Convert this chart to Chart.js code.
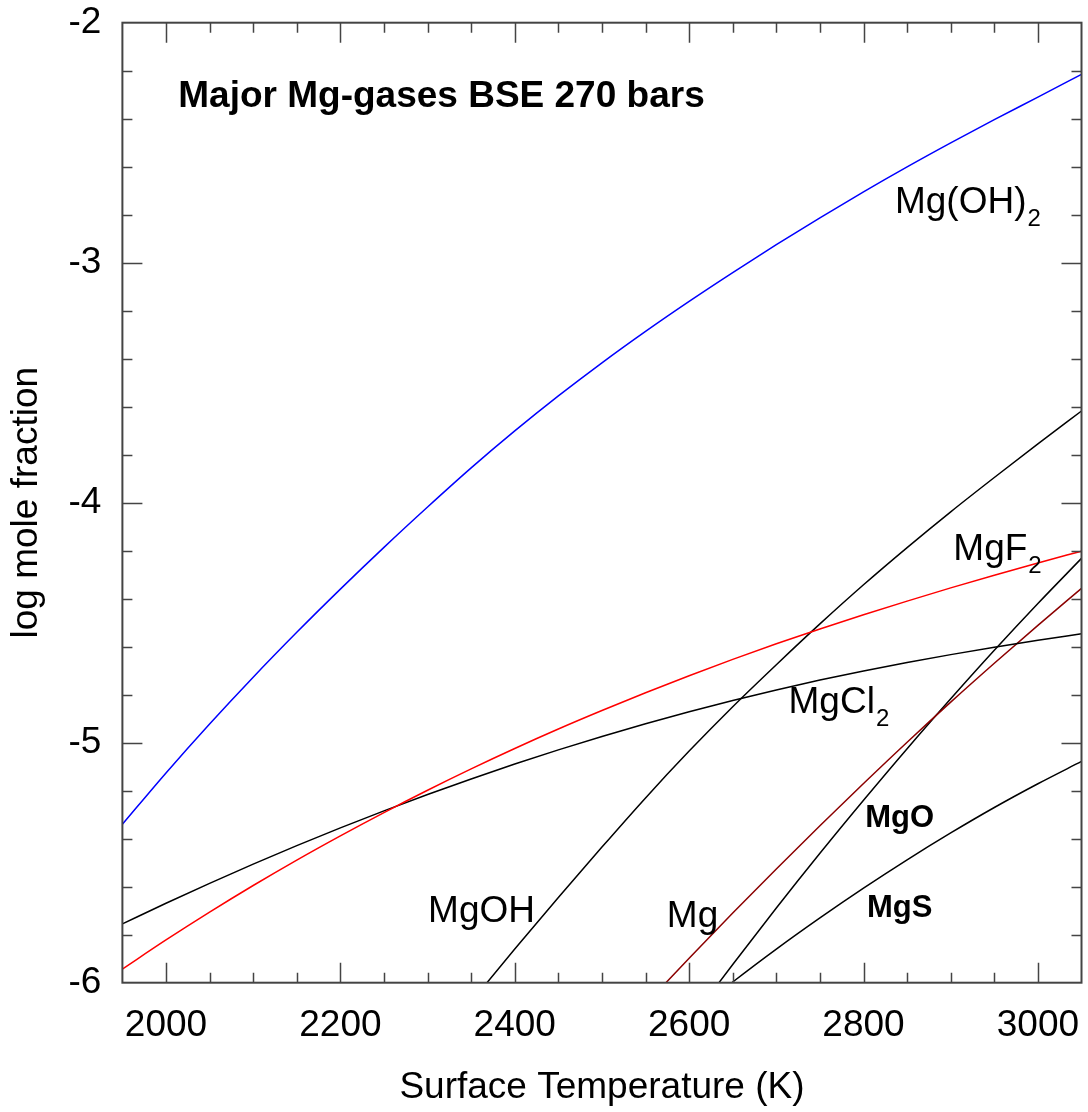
<!DOCTYPE html>
<html>
<head>
<meta charset="utf-8">
<script src="https://cdn.jsdelivr.net/npm/chart.js@4.4.1/dist/chart.umd.min.js"></script>
<style>
  html, body { margin: 0; padding: 0; background: #fff; }
  #wrap { width: 1088px; height: 1112px; }
</style>
</head>
<body>
<div id="wrap"><canvas id="mg_chart" width="1088" height="1112"></canvas></div>
<script>
// temperatures (K) and log mole fractions
const temps = [1950, 2000, 2050, 2100, 2150, 2200, 2250, 2300, 2350, 2400, 2450, 2500,
               2550, 2600, 2650, 2700, 2750, 2800, 2850, 2900, 2950, 3000, 3050];
const mgOH2 = [-5.34, -5.126, -4.922, -4.727, -4.540, -4.360, -4.186, -4.018, -3.855, -3.701, -3.555, -3.417,
               -3.286, -3.161, -3.041, -2.925, -2.813, -2.705, -2.601, -2.501, -2.404, -2.310, -2.215];
const mgF2 = [-5.943, -5.822, -5.706, -5.595, -5.489, -5.388, -5.291, -5.198, -5.109, -5.024, -4.943, -4.866,
              -4.792, -4.721, -4.653, -4.588, -4.526, -4.467, -4.410, -4.355, -4.302, -4.251, -4.202];
const mgCl2 = [-5.755, -5.669, -5.586, -5.506, -5.429, -5.355, -5.284, -5.216, -5.151, -5.089, -5.030, -4.974,
               -4.921, -4.871, -4.824, -4.780, -4.739, -4.701, -4.666, -4.633, -4.602, -4.573, -4.546];

const tempsMgOH = [2350, 2400, 2450, 2500, 2550, 2600, 2650, 2700, 2750, 2800, 2850, 2900, 2950, 3000, 3050];
const mgOH = [-6.08, -5.86, -5.645, -5.435, -5.23, -5.035, -4.85, -4.675, -4.505, -4.342, -4.187, -4.038, -3.895, -3.755, -3.618];

const tempsMg = [2550, 2600, 2650, 2700, 2750, 2800, 2850, 2900, 2950, 3000, 3050];
const mg = [-6.09, -5.898, -5.71, -5.526, -5.346, -5.17, -4.998, -4.831, -4.669, -4.511, -4.357];

const tempsMgO = [2600, 2650, 2700, 2750, 2800, 2850, 2900, 2950, 3000, 3050];
const mgO = [-6.165, -5.924, -5.689, -5.461, -5.24, -5.025, -4.817, -4.615, -4.42, -4.232];
const mgS = [-6.14, -5.997, -5.86, -5.73, -5.606, -5.488, -5.376, -5.27, -5.171, -5.078];

const xTicks = [2000, 2200, 2400, 2600, 2800, 3000];
const yTicks = [-2, -3, -4, -5, -6];

const FONT = "'Liberation Sans', Arial, sans-serif";
const AXIS = '#444444';

function pts(xs, ys) {
  return xs.map((x, i) => ({ x: x, y: ys[i] }));
}

function series(label, xs, ys, color) {
  return {
    label: label,
    data: pts(xs, ys),
    borderColor: color,
    borderWidth: 1.5,
    pointRadius: 0,
    fill: false,
    cubicInterpolationMode: 'monotone'
  };
}

// text labels placed in data units (T, log x)
const labels = [
  { t: 2836, v: -2.794, main: 'Mg(OH)', sub: '2' },
  { t: 2903, v: -4.239, main: 'MgF', sub: '2' },
  { t: 2714, v: -4.878, main: 'MgCl', sub: '2' },
  { t: 2300.6, v: -5.749, main: 'MgOH' },
  { t: 2574.4, v: -5.767, main: 'Mg' },
  { t: 2802, v: -5.351, main: 'MgO', bold: true },
  { t: 2804, v: -5.725, main: 'MgS', bold: true }
];

const framePlugin = {
  id: 'frame',
  afterDatasetsDraw(chart) {
    const { ctx, chartArea: a, scales } = chart;
    const xs = scales.x, ys = scales.y;
    ctx.save();
    ctx.strokeStyle = AXIS;
    ctx.lineWidth = 2;
    ctx.strokeRect(a.left, a.top, a.right - a.left, a.bottom - a.top);

    // inward ticks on all four sides
    ctx.lineWidth = 1.5;
    ctx.beginPath();
    for (let t = 2000; t < 3050; t += 50) {
      const len = t % 200 === 0 ? 20 : 10;
      const px = Math.round(xs.getPixelForValue(t)) + 0.5;
      ctx.moveTo(px, a.bottom); ctx.lineTo(px, a.bottom - len);
      ctx.moveTo(px, a.top); ctx.lineTo(px, a.top + len);
    }
    for (let k = 1; k < 20; k++) {
      const v = -6 + k * 0.2;
      const len = k % 5 === 0 ? 20 : 10;
      const py = Math.round(ys.getPixelForValue(v)) + 0.5;
      ctx.moveTo(a.left, py); ctx.lineTo(a.left + len, py);
      ctx.moveTo(a.right, py); ctx.lineTo(a.right - len, py);
    }
    ctx.stroke();

    // title inside the plot
    ctx.fillStyle = '#000';
    ctx.textBaseline = 'alphabetic';
    ctx.textAlign = 'left';
    ctx.font = 'bold 37px ' + FONT;
    ctx.fillText('Major Mg-gases BSE 270 bars', xs.getPixelForValue(2014.1), ys.getPixelForValue(-2.3525));

    labels.forEach(l => {
      const x = xs.getPixelForValue(l.t);
      const y = ys.getPixelForValue(l.v);
      ctx.font = (l.bold ? 'bold 31px ' : '37px ') + FONT;
      ctx.fillText(l.main, x, y);
      if (l.sub) {
        const w = ctx.measureText(l.main).width;
        ctx.font = '24px ' + FONT;
        ctx.fillText(l.sub, x + w + 1, y + 13);
      }
    });
    ctx.restore();
  }
};

new Chart('mg_chart', {
  type: 'line',
  data: {
    datasets: [
      series('Mg(OH)2', temps, mgOH2, '#0000ff'),
      series('MgF2', temps, mgF2, '#ff0000'),
      series('MgCl2', temps, mgCl2, '#000000'),
      series('MgOH', tempsMgOH, mgOH, '#000000'),
      series('Mg', tempsMg, mg, '#8b0000'),
      series('MgO', tempsMgO, mgO, '#000000'),
      series('MgS', tempsMgO, mgS, '#000000')
    ]
  },
  options: {
    responsive: false,
    animation: false,
    layout: { padding: { top: 22.7, right: 6.5, left: 0, bottom: 0 } },
    plugins: {
      legend: { display: false },
      tooltip: { enabled: false },
      title: { display: false }
    },
    scales: {
      x: {
        type: 'linear',
        min: 1950,
        max: 3050,
        afterFit(scale) {
          scale.height = 129.3;
          scale.paddingLeft = 0;
          scale.paddingRight = 0;
        },
        afterBuildTicks(scale) {
          scale.ticks = xTicks.map(v => ({ value: v }));
        },
        grid: { display: false },
        border: { display: false },
        ticks: {
          color: '#000',
          padding: 13,
          maxRotation: 0,
          font: { family: FONT, size: 37 },
          callback: v => String(v)
        },
        title: {
          display: true,
          text: 'Surface Temperature (K)',
          color: '#000',
          font: { family: FONT, size: 37 },
          padding: { top: 0, bottom: 2 }
        }
      },
      y: {
        type: 'linear',
        min: -6,
        max: -2,
        afterFit(scale) {
          scale.width = 122.4;
          scale.paddingTop = 0;
          scale.paddingBottom = 0;
        },
        afterBuildTicks(scale) {
          scale.ticks = yTicks.map(v => ({ value: v }));
        },
        grid: { display: false },
        border: { display: false },
        ticks: {
          color: '#000',
          padding: 13,
          font: { family: FONT, size: 37 },
          callback: v => String(v)
        },
        title: {
          display: true,
          text: 'log mole fraction',
          color: '#000',
          font: { family: FONT, size: 37 },
          padding: { top: 5, bottom: 0 }
        }
      }
    }
  },
  plugins: [framePlugin]
});
</script>
</body>
</html>
